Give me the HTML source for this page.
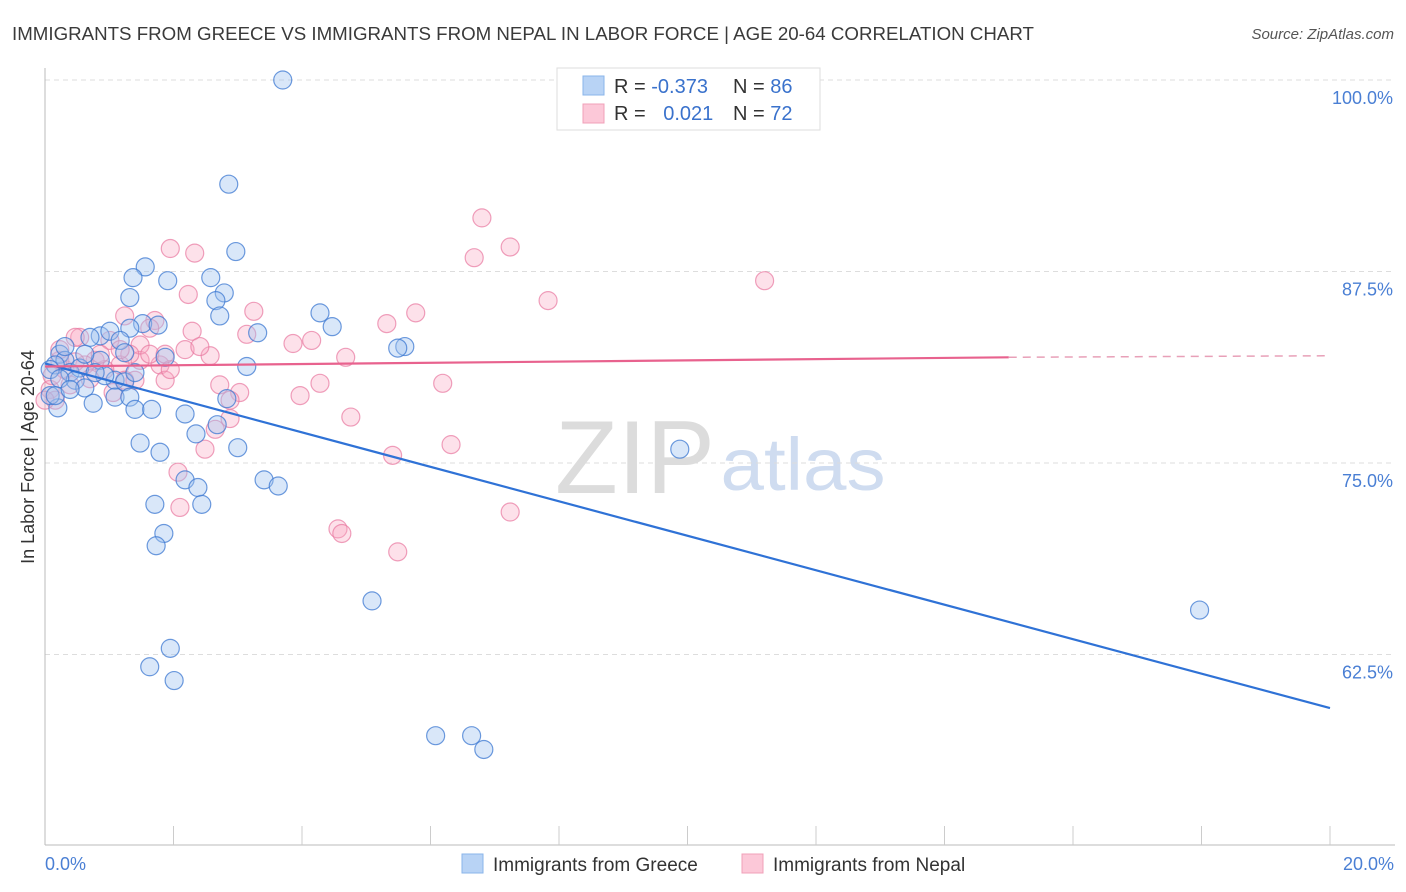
<!DOCTYPE html>
<html><head><meta charset="utf-8">
<style>
body{margin:0;background:#fff;font-family:"Liberation Sans",Arial,sans-serif;}
#wrap{position:relative;width:1406px;height:892px;overflow:hidden;}
svg text{font-family:"Liberation Sans",Arial,sans-serif;}
</style></head>
<body>
<div id="wrap">
<svg id="chart" width="1406" height="892">
  <text x="12" y="40" font-size="18.5" fill="#3a3a3a" textLength="1022" lengthAdjust="spacingAndGlyphs">IMMIGRANTS FROM GREECE VS IMMIGRANTS FROM NEPAL IN LABOR FORCE | AGE 20-64 CORRELATION CHART</text>
  <text x="1394" y="39" font-size="15" fill="#555" font-style="italic" text-anchor="end">Source: ZipAtlas.com</text>
  <text x="635" y="493" font-size="104" fill="#dcdcdc" font-family="Liberation Serif" text-anchor="middle" textLength="160" lengthAdjust="spacingAndGlyphs">ZIP</text>
  <text x="803" y="490" font-size="74" fill="#cfdcf0" text-anchor="middle" textLength="165" lengthAdjust="spacingAndGlyphs">atlas</text>
  <text transform="translate(34,457) rotate(-90)" font-size="18" fill="#333" text-anchor="middle">In Labor Force | Age 20-64</text>
  <g id="grid"></g><g id="axes"></g><g id="pts"></g><g id="trend"></g>
  <rect x="557" y="68" width="263" height="62" fill="#fff" stroke="#ddd"/>
  <rect x="583" y="76" width="21" height="19" fill="#b8d3f5" stroke="#8ab4ea"/>
  <rect x="583" y="104" width="21" height="19" fill="#fcc8d8" stroke="#f0a0b8"/>
  <text x="614" y="93" font-size="20" fill="#333">R = <tspan fill="#3a72cc">-0.373</tspan></text>
  <text x="733" y="93" font-size="20" fill="#333">N = <tspan fill="#3a72cc">86</tspan></text>
  <text x="614" y="120" font-size="20" fill="#333">R = <tspan fill="#3a72cc" dx="12">0.021</tspan></text>
  <text x="733" y="120" font-size="20" fill="#333">N = <tspan fill="#3a72cc">72</tspan></text>
  <rect x="462" y="854" width="21" height="19" fill="#b8d3f5" stroke="#8ab4ea"/>
  <text x="493" y="871" font-size="19" fill="#333">Immigrants from Greece</text>
  <rect x="742" y="854" width="21" height="19" fill="#fcc8d8" stroke="#f0a0b8"/>
  <text x="773" y="871" font-size="19" fill="#333">Immigrants from Nepal</text>
</svg>
</div>
<script>
const yTicks=[100,87.5,75,62.5];
const yTickLabels=["100.0%","87.5%","75.0%","62.5%"];
const xTickLabels=["0.0%","20.0%"];
const greeceX=[3.70,2.86,2.97,1.56,1.37,1.91,2.58,2.79,2.66,1.32,2.72,4.28,4.47,3.31,1.52,1.76,0.86,1.32,1.01,1.17,0.70,1.24,1.87,3.14,5.60,5.49,0.23,0.31,0.16,0.08,0.39,0.54,0.47,0.62,1.09,1.24,0.23,0.20,0.75,1.09,1.32,1.40,1.66,2.18,2.83,3.00,2.35,2.68,1.48,1.79,2.18,2.38,3.41,3.63,2.44,1.71,1.85,1.73,5.09,9.88,17.97,1.95,1.63,2.01,6.08,6.64,6.83,0.08,0.16,0.86,0.93,0.62,0.31,1.40,0.78,0.39];
const greeceY=[100,93.2,88.8,87.8,87.1,86.9,87.1,86.1,85.6,85.8,84.6,84.8,83.9,83.5,84.1,84.0,83.3,83.8,83.6,83.0,83.2,82.2,81.9,81.3,82.6,82.5,82.1,81.7,81.4,81.1,80.9,81.2,80.4,79.9,80.4,80.3,80.5,78.6,78.9,79.3,79.3,78.5,78.5,78.2,79.2,76.0,76.9,77.5,76.3,75.7,73.9,73.4,73.9,73.5,72.3,72.3,70.4,69.6,66.0,75.9,65.4,62.9,61.7,60.8,57.2,57.2,56.3,79.4,79.4,81.7,80.7,82.1,82.6,80.9,80.9,79.8];
const nepalX=[1.95,2.33,6.80,7.24,6.68,7.83,11.20,2.23,3.25,5.32,5.77,1.71,1.24,1.63,0.54,0.47,2.29,2.18,2.57,2.41,3.14,3.86,4.15,4.68,4.28,3.97,4.76,6.19,6.32,5.41,3.03,2.72,2.88,2.65,2.49,2.07,2.10,4.56,4.62,5.49,7.24,1.79,1.87,1.48,1.17,1.24,0.93,0.78,1.01,0.23,0.08,0.16,0.31,0.62,1.48,1.32,1.95,1.40,1.06,0.47,0.11,0.86,1.17,0.39,1.63,0.70,0.23,0.0,2.88,1.87];
const nepalY=[89.0,88.7,91.0,89.1,88.4,85.6,86.9,86.0,84.9,84.1,84.8,84.3,84.6,83.8,83.2,83.2,83.6,82.4,82.0,82.6,83.4,82.8,83.0,81.9,80.2,79.4,78.0,80.2,76.2,75.5,79.6,80.1,77.9,77.2,75.9,74.4,72.1,70.7,70.4,69.2,71.8,81.4,80.4,81.7,81.4,80.4,81.1,81.7,83.0,81.7,79.8,79.1,81.1,81.4,82.7,82.1,81.1,80.4,79.6,81.6,80.7,82.1,82.4,80.1,82.1,80.5,82.4,79.1,79.1,82.1];
const greeceTrend=[81.5,59.0];
const nepalTrend=[81.3,81.9,82.0];
const nepalSolidEnd=15;

const X0=45,X1=1330,Y100=80,YPER=191.5/12.5;
const sx=v=>X0+(v/20)*(X1-X0);
const sy=v=>Y100+(100-v)*YPER;
const NS="http://www.w3.org/2000/svg";
function mk(tag,attrs,parent){const e=document.createElementNS(NS,tag);for(const k in attrs)e.setAttribute(k,attrs[k]);parent.appendChild(e);return e;}
const grid=document.getElementById('grid'),axes=document.getElementById('axes'),pts=document.getElementById('pts'),tr=document.getElementById('trend');
yTicks.forEach((t,i)=>{
  const l=mk('line',{x1:45,x2:1395,y1:sy(t),y2:sy(t),stroke:'#ddd','stroke-dasharray':'5,4'},grid);
  
  
  const tx=mk('text',{x:1393,y:sy(t)+24,'font-size':18,fill:'#4a7fd4','text-anchor':'end'},axes);
  tx.textContent=yTickLabels[i];
  
  
});
const ya=mk('line',{x1:45,x2:45,y1:68,y2:845,stroke:'#bbb'},axes);


const xa=mk('line',{x1:45,x2:1395,y1:845,y2:845,stroke:'#bbb'},axes);


for(let v=2;v<=20;v+=2){
  const t=mk('line',{x1:sx(v),x2:sx(v),y1:826,y2:845,stroke:'#ccc'},axes);
  
  
}
const xl0=mk('text',{x:45,y:870,'font-size':18,fill:'#4a7fd4'},axes);xl0.textContent=xTickLabels[0];


const xl1=mk('text',{x:1394,y:870,'font-size':18,fill:'#4a7fd4','text-anchor':'end'},axes);xl1.textContent=xTickLabels[1];


nepalX.forEach((x,i)=>{
  const c=mk('circle',{cx:sx(x),cy:sy(nepalY[i]),r:9,fill:'rgba(248,170,195,0.35)',stroke:'rgba(232,120,160,0.7)','stroke-width':1.2},pts);
  
  
});
greeceX.forEach((x,i)=>{
  const c=mk('circle',{cx:sx(x),cy:sy(greeceY[i]),r:9,fill:'rgba(160,195,240,0.4)',stroke:'rgba(60,120,210,0.75)','stroke-width':1.2},pts);
  
  
});
const gt=mk('line',{x1:sx(0),y1:sy(greeceTrend[0]),x2:sx(20),y2:sy(greeceTrend[1]),stroke:'#2f72d6','stroke-width':2.2},tr);


const nt=mk('line',{x1:sx(0),y1:sy(nepalTrend[0]),x2:sx(nepalSolidEnd),y2:sy(nepalTrend[1]),stroke:'#e8628e','stroke-width':2.2},tr);


const nd=mk('line',{x1:sx(nepalSolidEnd),y1:sy(nepalTrend[1]),x2:sx(20),y2:sy(nepalTrend[2]),stroke:'#e8a0b8','stroke-width':1.5,'stroke-dasharray':'8,6'},tr);


</script>
</body></html>
